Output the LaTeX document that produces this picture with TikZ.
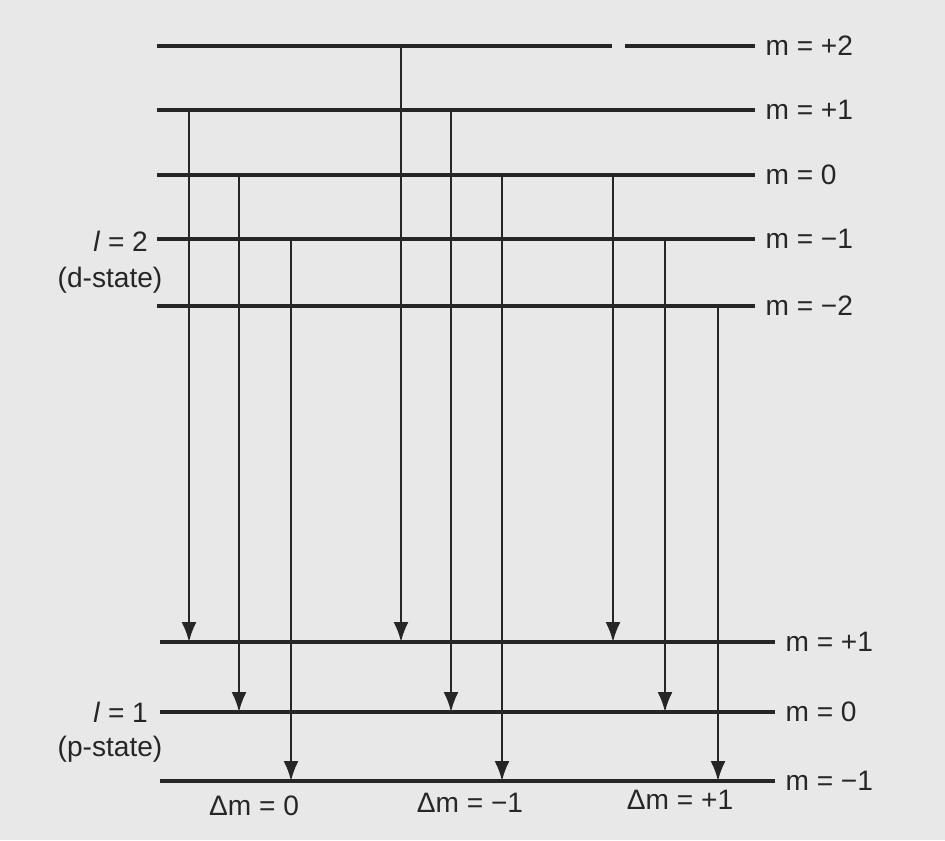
\documentclass[tikz,border=0pt]{standalone}
\usepackage{fontspec}
\setmainfont{Liberation Sans}
\usetikzlibrary{arrows.meta}

\tikzset{
  level/.style={line width=2pt, black!85},
  trans/.style={line width=1.3pt, black!85, -{Latex[length=4mm,width=3mm]}},
  mlabel/.style={anchor=west, inner sep=1pt, xshift=4pt, font=\fontsize{16}{18}\selectfont, text=black!85},
  dlabel/.style={inner sep=1pt, font=\fontsize{16}{18}\selectfont, text=black!85},
}

\begin{document}
\begin{tikzpicture}[x=0.02cm, y=-0.02cm]
        % Paper
        \fill[black!9] (0,0) rectangle (945,840);
        \useasboundingbox (0,0) rectangle (945,840);

        % Upper levels (l = 2)
        \coordinate (U2) at (157,46);
        \coordinate (U1) at (157,110);
        \coordinate (U0) at (157,175);
        \coordinate (Um1) at (157,239);
        \coordinate (Um2) at (157,306);
        \draw[level] (U2) -- (612,46);
        \draw[level] (625,46) -- (755,46) node[mlabel] {m = +2};
        \draw[level] (U1) -- (755,110) node[mlabel] {m = +1};
        \draw[level] (U0) -- (755,175) node[mlabel] {m = 0};
        \draw[level] (Um1) -- (755,239) node[mlabel] {m = −1};
        \draw[level] (Um2) -- (755,306) node[mlabel] {m = −2};

        % Lower levels (l = 1)
        \coordinate (L1) at (160,642);
        \coordinate (L0) at (160,712);
        \coordinate (Lm1) at (160,781);
        \draw[level] (L1) -- (775,642) node[mlabel] {m = +1};
        \draw[level] (L0) -- (775,712) node[mlabel] {m = 0};
        \draw[level] (Lm1) -- (775,781) node[mlabel] {m = −1};

        % Left labels
        \node[dlabel, anchor=east] (ltwo) at (150,241) {\textit{l} = 2};
        \node[dlabel] (dstate) at (110,280) {(d-state)};
        \node[dlabel, anchor=east] (lone) at (150,712) {\textit{l} = 1};
        \node[dlabel] (pstate) at (110,749) {(p-state)};

        % Transitions
        \foreach \name/\xpos/\from/\to in {
            a/189/U1/L1, b/239/U0/L0, c/291/Um1/Lm1,
            d/401/U2/L1, e/451/U1/L0, f/502/U0/Lm1,
            g/613/U0/L1, h/665/Um1/L0, i/718/Um2/Lm1}
        {
            \coordinate (\name) at (\xpos,0);
            \draw[trans] (\name |- \from) -- (\name |- \to);
        }

        % Selection rules
        \node[dlabel] (dm0) at (254,806) {Δm = 0};
        \node[dlabel] (dmm) at (470,803) {Δm = −1};
        \node[dlabel] (dmp) at (680,800) {Δm = +1};
\end{tikzpicture}
\end{document}
